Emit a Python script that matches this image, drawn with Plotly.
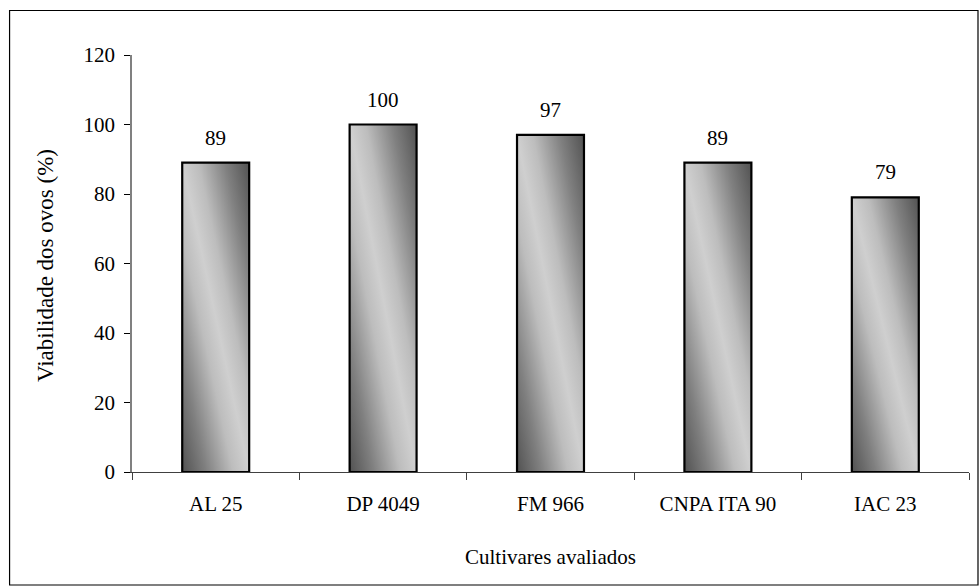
import base64
import plotly.graph_objects as go

# Egg viability per evaluated cotton cultivar
cultivars = ["AL 25", "DP 4049", "FM 966", "CNPA ITA 90", "IAC 23"]
viability = [89, 100, 97, 89, 79]
y_ticks = [0, 20, 40, 60, 80, 100, 120]

FONT = "Liberation Serif, Times New Roman, serif"
FS = 21
W, H = 980, 588
L, R, T, B = 132, 10.5, 55, 116
PW, PH = W - L - R, H - T - B
BAR_W = 0.4

# Diagonal grey gradient used to fill each bar (dark corners, light diagonal band)
stops = [(0.0, "#525252"), (0.18, "#808080"), (0.38, "#bdbdbd"),
         (0.5, "#cfcfcf"), (0.62, "#bdbdbd"), (0.82, "#808080"), (1.0, "#525252")]
stop_xml = "".join(f'<stop offset="{o}" stop-color="{c}"/>' for o, c in stops)
svg = (
    '<svg xmlns="http://www.w3.org/2000/svg" width="100" height="100" '
    'viewBox="0 0 100 100" preserveAspectRatio="none">'
    '<defs><linearGradient id="g" x1="0" y1="1" x2="1" y2="0">'
    + stop_xml +
    '</linearGradient></defs>'
    '<rect x="0" y="0" width="100" height="100" fill="url(#g)"/></svg>'
)
grad_src = "data:image/svg+xml;base64," + base64.b64encode(svg.encode()).decode()

fig = go.Figure()
fig.add_trace(go.Bar(
    x=cultivars, y=viability, width=BAR_W,
    marker=dict(color="rgba(0,0,0,0)", line=dict(color="#000000", width=2.2)),
    hoverinfo="x+y", showlegend=False,
))

images = []
annotations = []
for i, (c, v) in enumerate(zip(cultivars, viability)):
    images.append(dict(
        source=grad_src, xref="x", yref="y",
        x=i - BAR_W / 2, y=v, sizex=BAR_W, sizey=v,
        xanchor="left", yanchor="top", sizing="stretch", layer="below",
    ))
    annotations.append(dict(
        x=c, y=v, xref="x", yref="y", text=str(v), showarrow=False,
        yshift=25, font=dict(family=FONT, size=FS, color="#000000"),
    ))

def px_to_paper_x(px):
    return (px - L) / PW

def px_to_paper_y(py):
    return (H - B - py) / PH

# Axis titles
annotations.append(dict(
    text="Viabilidade dos ovos (%)", xref="paper", yref="paper",
    x=px_to_paper_x(45), y=px_to_paper_y(266), textangle=-90, showarrow=False,
    xanchor="center", yanchor="middle",
    font=dict(family=FONT, size=23, color="#000000"),
))
annotations.append(dict(
    text="Cultivares avaliados", xref="paper", yref="paper",
    x=0.5, y=px_to_paper_y(557), showarrow=False,
    xanchor="center", yanchor="middle",
    font=dict(family=FONT, size=FS, color="#000000"),
))

# Outer frame around the whole chart
shapes = [dict(
    type="rect", xref="paper", yref="paper",
    x0=px_to_paper_x(9.5), x1=px_to_paper_x(978.5),
    y0=px_to_paper_y(585), y1=px_to_paper_y(10.5),
    line=dict(color="#000000", width=1.2), fillcolor="rgba(0,0,0,0)",
)]

fig.update_layout(
    width=W, height=H,
    margin=dict(l=L, r=R, t=T, b=B, pad=0),
    paper_bgcolor="#ffffff", plot_bgcolor="rgba(0,0,0,0)",
    font=dict(family=FONT, size=FS, color="#000000"),
    images=images, annotations=annotations, shapes=shapes,
    bargap=0.6,
)
fig.update_xaxes(
    type="category", range=[-0.5, len(cultivars) - 0.5],
    showline=True, linecolor="#404040", linewidth=1.3,
    ticks="outside", tickson="boundaries", ticklen=7, tickcolor="#404040",
    tickwidth=1.3, showgrid=False, zeroline=False,
    tickfont=dict(family=FONT, size=FS, color="#000000"),
    ticklabelstandoff=13,
)
fig.update_yaxes(
    range=[0, 120], tickvals=y_ticks,
    showline=True, linecolor="#808080", linewidth=1.5,
    ticks="outside", ticklen=6, tickcolor="#000000", tickwidth=1.2,
    showgrid=False, zeroline=False,
    tickfont=dict(family=FONT, size=FS, color="#000000"),
    ticklabelstandoff=5,
)

fig.write_html("out.html")
